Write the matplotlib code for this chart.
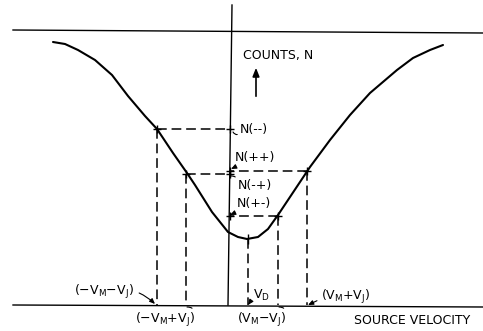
import numpy as np
import matplotlib.pyplot as plt

plt.rcParams['lines.scale_dashes'] = False
plt.rcParams['mathtext.default'] = 'regular'

# curve: source velocity (arb. units) vs counts N
velocity = [-17.7, -16.5, -15.2, -13.5, -11.8, -10.2, -8.5, -7.3, -5.7, -4.3,
            -3.5, -1.8, -0.2, 0.8, 1.7, 2.8, 3.8, 4.8, 6.0, 8.0,
            10.0, 12.0, 14.0, 16.7, 18.3, 20.0, 21.3]
counts = [263, 261, 255, 245, 230, 209, 189, 176, 152, 132,
          120, 93, 73, 68, 66, 68, 76, 90, 108, 138,
          165, 190, 212, 235, 247, 255, 260]

# the four measuring points and the dip centre
pt_names = ['N(--)', 'N(-+)', 'N(+-)', 'N(++)']
pt_v = [-7.3, -4.4, 4.8, 7.7]
pt_n = [176, 131, 89, 134]
v_d = 1.8
n_min = 66
top_level = 275

fig = plt.figure(figsize=(4.83, 3.31), dpi=100)
ax = fig.add_axes([0, 0, 1, 1])
ax.set_xlim(-23.0, 25.3)
ax.set_ylim(-26, 305)
ax.axis('off')

# frame lines
ax.plot([-21.7, 25.3], [top_level, top_level - 3], color='black', lw=1.0)
ax.plot([-21.7, 25.3], [0, -2], color='black', lw=1.0)
ax.plot([0.2, -0.2], [300, 0], color='black', lw=1.0)

# the dip
ax.plot(velocity, counts, color='black', lw=1.5, solid_capstyle='round',
        solid_joinstyle='round')

dash = (0, (7, 3.5))
for v, n in zip(pt_v, pt_n):
    ax.plot([v, 0], [n, n], color='black', lw=1.1, ls=dash)
    ax.plot([v, v], [n, 0], color='black', lw=1.1, ls=dash)
    ax.plot([v, 0], [n, n], ls='none', marker='+', ms=6, mew=1.0, color='black')
ax.plot([v_d, v_d], [n_min, 0], color='black', lw=1.1, ls=dash)
ax.plot([v_d], [n_min], ls='none', marker='|', ms=7, mew=1.0, color='black')

fs = 9
ax.text(1.3, 249, 'COUNTS, N', fontsize=fs, ha='left', va='center')
ax.annotate('', xy=(2.6, 240), xytext=(2.6, 206),
            arrowprops=dict(arrowstyle='-|>,head_length=0.5,head_width=0.2',
                            color='black', lw=1.2))

head = '-|>,head_length=0.35,head_width=0.15'
ax.annotate('N(--)', xy=(0.3, 173), xytext=(1.0, 176), fontsize=fs, va='center',
            arrowprops=dict(arrowstyle='-', lw=0.8, color='black',
                            connectionstyle='arc3,rad=-0.6', shrinkA=0, shrinkB=0,
                            relpos=(0.0, 0.2)))
ax.annotate('N(++)', xy=(0.1, 136), xytext=(0.5, 148), fontsize=fs, va='center',
            arrowprops=dict(arrowstyle=head, lw=0.8, color='black', shrinkA=2, shrinkB=0))
ax.annotate('N(-+)', xy=(0.1, 129), xytext=(0.8, 120), fontsize=fs, va='center',
            arrowprops=dict(arrowstyle='-', lw=0.8, color='black',
                            connectionstyle='arc3,rad=0.4', shrinkA=0, shrinkB=0,
                            relpos=(0.0, 0.8)))
ax.annotate('N(+-)', xy=(0.0, 90), xytext=(0.7, 101), fontsize=fs, va='center',
            arrowprops=dict(arrowstyle=head, lw=0.8, color='black', shrinkA=2, shrinkB=0))

ax.annotate('(−V$_M$−V$_J$)', xy=(-7.5, 1), xytext=(-15.6, 13), fontsize=fs,
            va='center', ha='left',
            arrowprops=dict(arrowstyle=head, lw=0.8, color='black',
                            connectionstyle='arc3,rad=-0.3', shrinkA=2, shrinkB=0))
ax.annotate('(−V$_M$+V$_J$)', xy=(-4.3, -2), xytext=(-9.5, -15), fontsize=fs,
            va='center', ha='left',
            arrowprops=dict(arrowstyle='-', lw=0.8, color='black',
                            connectionstyle='arc3,rad=0.5', shrinkA=0, shrinkB=0,
                            relpos=(1.0, 0.8)))
ax.annotate('V$_D$', xy=(v_d, 0), xytext=(2.3, 10), fontsize=fs, va='center',
            arrowprops=dict(arrowstyle=head, lw=0.8, color='black', shrinkA=1, shrinkB=0,
                            relpos=(0.0, 0.3)))
ax.annotate('(V$_M$−V$_J$)', xy=(4.9, -2), xytext=(0.7, -15), fontsize=fs,
            va='center', ha='left',
            arrowprops=dict(arrowstyle='-', lw=0.8, color='black',
                            connectionstyle='arc3,rad=0.5', shrinkA=0, shrinkB=0,
                            relpos=(1.0, 0.8)))
ax.annotate('(V$_M$+V$_J$)', xy=(7.8, 0), xytext=(9.1, 8), fontsize=fs,
            va='center', ha='left',
            arrowprops=dict(arrowstyle=head, lw=0.8, color='black', shrinkA=1, shrinkB=0,
                            relpos=(0.0, 0.4)))
ax.text(12.4, -15, 'SOURCE VELOCITY', fontsize=fs, ha='left', va='center')

fig.savefig('out.png', dpi=100)
